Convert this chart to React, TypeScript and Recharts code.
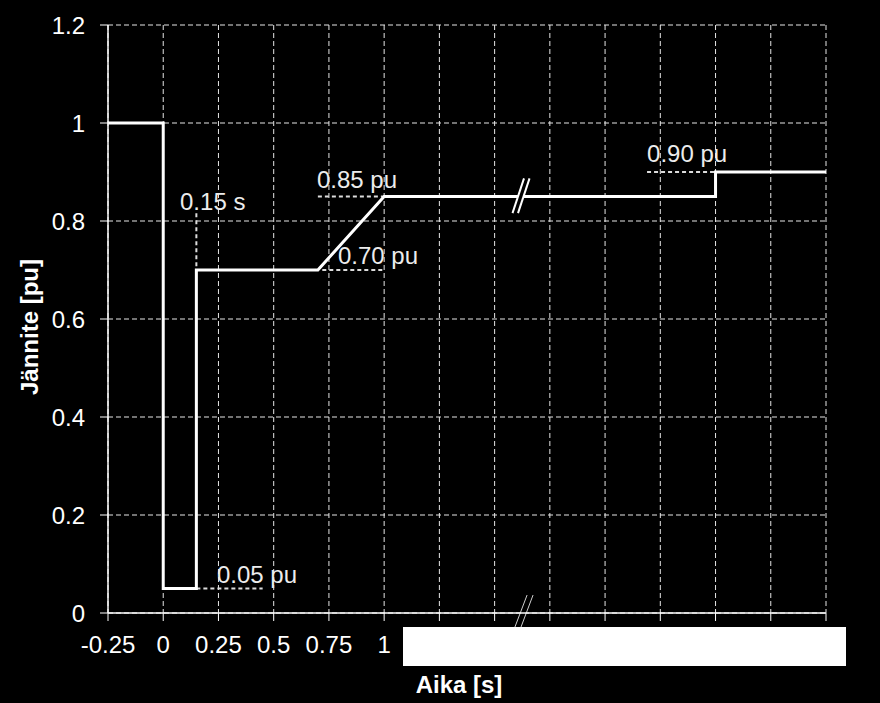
import React from 'react';
import { LineChart, Line, XAxis, YAxis, CartesianGrid, ReferenceLine, ReferenceDot } from 'recharts';

// Voltage profile (time in s, voltage in pu)
const time = [-0.25, 0, 0, 0.15, 0.15, 0.7, 1.0, 2.5, 2.5, 3.0];
const voltage = [1, 1, 0.05, 0.05, 0.7, 0.7, 0.85, 0.85, 0.9, 0.9];

const xTicks = [-0.25, 0, 0.25, 0.5, 0.75, 1, 1.25, 1.5, 1.75, 2, 2.25, 2.5, 2.75, 3];
const xTickLabels = ['-0.25', '0', '0.25', '0.5', '0.75', '1', '', '', '', '', '', '', '', ''];
const yTicks = [0, 0.2, 0.4, 0.6, 0.8, 1, 1.2];
const yTickLabels = ['0', '0.2', '0.4', '0.6', '0.8', '1', '1.2'];

// Annotation texts (anchored at left baseline, data coords)
const noteLabels = ['0.15 s', '0.85 pu', '0.70 pu', '0.05 pu', '0.90 pu'];
const noteX = [0.076, 0.696, 0.791, 0.243, 2.19];
const noteY = [0.822, 0.867, 0.712, 0.061, 0.92];

// Dashed guide lines [x1, y1, x2, y2]
const guides = [
  [0.15, 0.816, 0.15, 0.7],
  [0.7, 0.85, 1.0, 0.85],
  [0.72, 0.7, 1.0, 0.7],
  [0.15, 0.05, 0.45, 0.05],
  [2.19, 0.9, 2.5, 0.9],
];

// Axis-break marks on the curve and on the x axis
const breakCurve = [
  [1.581, 0.816, 1.633, 0.887],
  [1.606, 0.816, 1.658, 0.887],
];
const breakCurveGap = [1.5935, 0.816, 1.6455, 0.887];
const breakAxis = [
  [1.592, -0.0286, 1.647, 0.0367],
  [1.6195, -0.0286, 1.674, 0.0367],
];
const breakAxisGap = [1.6057, -0.0286, 1.6605, 0.0367];

const data = time.map((t, i) => ({ t, v: voltage[i] }));

const FONT = '"Liberation Sans", Arial, sans-serif';

const seg = (s: number[]) => [
  { x: s[0], y: s[1] },
  { x: s[2], y: s[3] },
];

export default function App() {
  return (
    <div style={{ position: 'absolute', left: 0, top: 0, width: 880, height: 703, background: '#000' }}>
      <LineChart
        width={880}
        height={703}
        data={data}
        margin={{ top: 25, right: 54, bottom: 30, left: 0 }}
        style={{ fontFamily: FONT }}
      >
        <CartesianGrid stroke="#e6e6e6" strokeDasharray="5 3" strokeWidth={1} />
        <XAxis
          dataKey="t"
          type="number"
          domain={[-0.25, 3]}
          ticks={xTicks}
          interval={0}
          allowDataOverflow
          height={60}
          tickSize={8}
          tickMargin={15}
          stroke="#fff"
          axisLine={{ stroke: '#fff', strokeWidth: 1.5 }}
          tickLine={{ stroke: '#fff' }}
          tick={{ fill: '#fff', fontSize: 24, fontFamily: FONT }}
          tickFormatter={(v: number) => xTickLabels[xTicks.indexOf(v)] ?? ''}
          label={(p: any) => {
            const vb = p.viewBox;
            return (
              <text
                x={vb.x + vb.width / 2 - 8}
                y={vb.y + 80}
                textAnchor="middle"
                fill="#fff"
                fontSize={24}
                fontWeight="bold"
                fontFamily={FONT}
              >
                Aika [s]
              </text>
            );
          }}
        />
        <YAxis
          type="number"
          domain={[0, 1.2]}
          ticks={yTicks}
          interval={0}
          width={108}
          tickSize={8}
          tickMargin={15}
          stroke="#fff"
          axisLine={{ stroke: '#fff', strokeWidth: 1.5 }}
          tickLine={{ stroke: '#fff' }}
          tick={{ fill: '#fff', fontSize: 24, fontFamily: FONT }}
          tickFormatter={(v: number) => yTickLabels[yTicks.indexOf(v)] ?? ''}
          label={(p: any) => {
            const vb = p.viewBox;
            const cx = vb.x + 29;
            const cy = vb.y + vb.height / 2 + 8;
            return (
              <text
                x={cx}
                y={cy}
                transform={`rotate(-90, ${cx}, ${cy})`}
                textAnchor="middle"
                dominantBaseline="central"
                fill="#fff"
                fontSize={24}
                fontWeight="bold"
                fontFamily={FONT}
              >
                Jännite [pu]
              </text>
            );
          }}
        />
        {guides.map((g, i) => (
          <ReferenceLine
            key={'g' + i}
            segment={seg(g)}
            stroke="#dcdcdc"
            strokeWidth={2}
            strokeDasharray="4 3"
            ifOverflow="visible"
          />
        ))}
        <Line
          type="linear"
          dataKey="v"
          stroke="#fff"
          strokeWidth={3}
          dot={false}
          activeDot={false}
          isAnimationActive={false}
        />
        <ReferenceLine segment={seg(breakCurveGap)} stroke="#000" strokeWidth={5} ifOverflow="visible" />
        {breakCurve.map((b, i) => (
          <ReferenceLine key={'bc' + i} segment={seg(b)} stroke="#fff" strokeWidth={2} ifOverflow="visible" />
        ))}
        <ReferenceLine segment={seg(breakAxisGap)} stroke="#000" strokeWidth={4} ifOverflow="visible" />
        {breakAxis.map((b, i) => (
          <ReferenceLine key={'ba' + i} segment={seg(b)} stroke="#cfcfcf" strokeWidth={1} ifOverflow="visible" />
        ))}
        {noteLabels.map((txt, i) => (
          <ReferenceDot
            key={'n' + i}
            x={noteX[i]}
            y={noteY[i]}
            r={1}
            ifOverflow="visible"
            shape={(p: any) => (
              <text x={p.cx} y={p.cy} fill="#ececec" fontSize={24} fontFamily={FONT} textAnchor="start">
                {txt}
              </text>
            )}
          />
        ))}
      </LineChart>
      <div
        style={{
          position: 'absolute',
          left: 403,
          top: 627,
          width: 443,
          height: 39,
          background: '#fff',
        }}
      />
    </div>
  );
}
